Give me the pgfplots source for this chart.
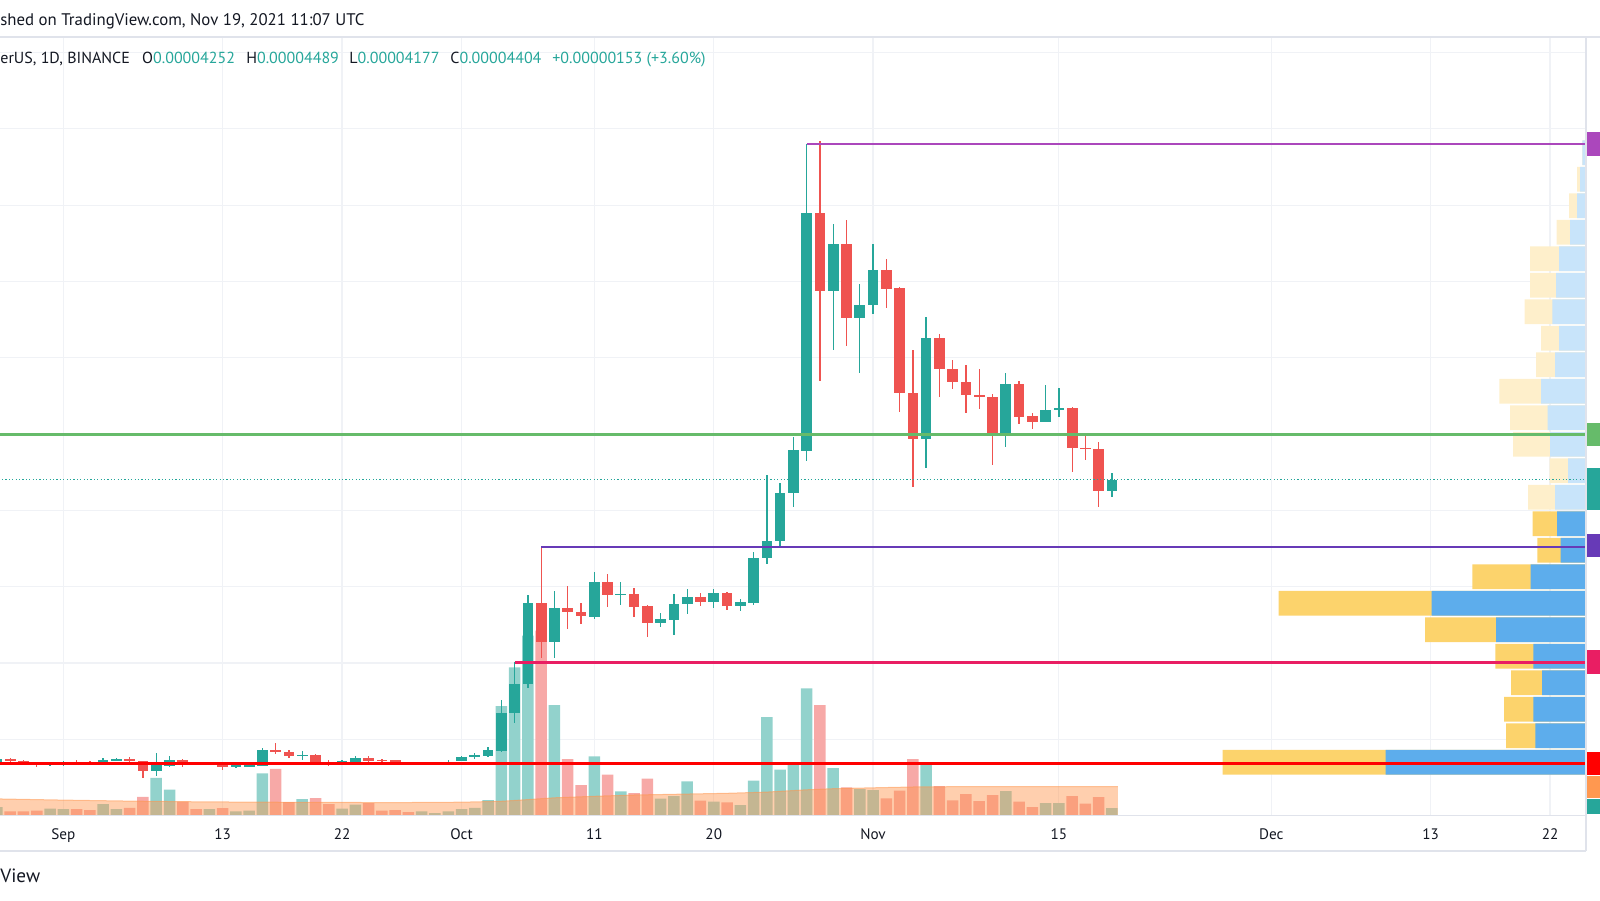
\documentclass[border=0pt]{standalone}
\usepackage{fontspec}
\setmainfont{PT Sans}
\usepackage{pgfplots}
\usepackage{pgfplotstable}
\pgfplotsset{compat=1.18}
\definecolor{upc}{HTML}{26A69A}
\definecolor{downc}{HTML}{EF5350}
\definecolor{volup}{HTML}{92D2CC}
\definecolor{voldown}{HTML}{F7A9A7}
\definecolor{maor}{HTML}{FF964E}
\definecolor{gridc}{HTML}{F0F2F6}
\definecolor{borderc}{HTML}{E0E3EB}
\definecolor{tvtext}{HTML}{131722}
\definecolor{pblue}{HTML}{5DADEC}
\definecolor{pyellow}{HTML}{FCD36C}
\definecolor{plblue}{HTML}{C8E4FA}
\definecolor{plyellow}{HTML}{FEEFCB}
\definecolor{hlpurple}{HTML}{AB47BC}
\definecolor{hlgreen}{HTML}{66BB6A}
\definecolor{hldeep}{HTML}{673AB7}
\definecolor{hlpink}{HTML}{E91E63}
\definecolor{hlred}{HTML}{FF0000}
\definecolor{lblorange}{HTML}{FF9850}

% day index: 0 = 1 Sep 2021
\pgfplotstableread{
d o h l c v
-5 6.894e-6 7.549e-6 6.763e-6 7.418e-6 8.6
-1 6.632e-6 6.959e-6 6.566e-6 6.894e-6 7.1
0 6.710e-6 7.156e-6 6.566e-6 7.064e-6 6.4
3 6.894e-6 7.601e-6 6.828e-6 7.339e-6 11.6
4 7.248e-6 7.484e-6 7.156e-6 7.418e-6 6.4
7 5.845e-6 8.152e-6 5.216e-6 6.632e-6 37.7
8 6.474e-6 7.785e-6 6.383e-6 7.287e-6 26.0
11 6.710e-6 6.959e-6 6.632e-6 6.828e-6 6.4
13 6.343e-6 6.697e-6 6.304e-6 6.658e-6 4.3
14 6.435e-6 6.828e-6 6.396e-6 6.763e-6 5.0
15 6.527e-6 8.820e-6 6.501e-6 8.558e-6 42.2
18 7.746e-6 8.414e-6 7.287e-6 8.008e-6 16.4
21 6.789e-6 7.339e-6 6.763e-6 7.195e-6 7.1
22 7.064e-6 7.785e-6 6.972e-6 7.549e-6 10.9
27 6.789e-6 7.064e-6 6.710e-6 7.025e-6 4.3
28 6.750e-6 7.064e-6 6.710e-6 7.025e-6 2.6
29 6.841e-6 7.339e-6 6.789e-6 7.064e-6 4.3
30 7.156e-6 7.746e-6 7.117e-6 7.654e-6 6.4
31 7.654e-6 8.191e-6 7.379e-6 7.942e-6 7.8
32 7.746e-6 9.004e-6 7.654e-6 8.558e-6 15.6
33 8.506e-6 1.5151e-5 8.296e-6 1.3486e-5 109.6
34 1.3407e-5 2.0170e-5 1.2175e-5 1.7287e-5 148.3
35 1.7247e-5 2.8872e-5 1.6684e-5 2.7824e-5 180
37 2.2791e-5 2.9475e-5 2.0616e-5 2.7169e-5 110.6
40 2.6029e-5 3.1966e-5 2.5766e-5 3.0576e-5 59.3
42 2.8951e-5 3.0655e-5 2.7601e-5 2.9082e-5 24.3
45 2.5242e-5 2.6592e-5 2.4679e-5 2.5727e-5 16.9
46 2.5675e-5 2.9043e-5 2.3709e-5 2.7772e-5 19.6
47 2.7732e-5 2.9659e-5 2.6382e-5 2.8610e-5 34.3
49 2.7994e-5 2.9659e-5 2.7169e-5 2.9174e-5 13.9
51 2.7431e-5 2.8427e-5 2.6854e-5 2.7955e-5 10.6
52 2.7903e-5 3.4587e-5 2.7601e-5 3.3800e-5 34.9
53 3.3761e-5 4.4639e-5 3.2935e-5 3.6028e-5 98.6
54 3.5989e-5 4.3630e-5 3.5032e-5 4.2319e-5 45.9
55 4.2241e-5 4.9659e-5 4.0484e-5 4.7916e-5 53.3
56 4.7824e-5 8.8020e-5 4.6513e-5 7.9016e-5 127.3
58 6.8793e-5 7.7535e-5 6.1022e-5 7.4914e-5 47.6
60 6.5255e-5 6.9632e-5 5.8047e-5 6.6919e-5 26.6
61 6.6919e-5 7.4914e-5 6.5740e-5 7.1467e-5 25.6
65 4.9318e-5 6.5386e-5 4.5517e-5 6.2555e-5 53.3
71 5.0104e-5 5.7968e-5 4.8348e-5 5.6526e-5 24.6
74 5.1585e-5 5.6395e-5 5.1520e-5 5.3158e-5 12.6
75 5.3158e-5 5.6081e-5 5.2280e-5 5.3420e-5 12.6
79 4.252e-5 4.489e-5 4.177e-5 4.404e-5 7.6
}\upcandles

\pgfplotstableread{
d o h l c v
-4 7.470e-6 7.549e-6 7.025e-6 7.117e-6 4.3
-3 7.195e-6 7.339e-6 6.828e-6 6.894e-6 4.3
-2 6.933e-6 7.025e-6 6.383e-6 6.658e-6 5.0
1 7.064e-6 7.248e-6 6.763e-6 6.789e-6 6.4
2 7.025e-6 7.156e-6 6.763e-6 6.841e-6 5.4
5 7.418e-6 7.654e-6 6.894e-6 7.117e-6 7.8
6 7.156e-6 7.221e-6 4.941e-6 5.845e-6 18.8
9 7.248e-6 7.418e-6 6.435e-6 6.710e-6 14.0
10 6.894e-6 6.959e-6 6.632e-6 6.710e-6 6.4
12 6.841e-6 6.894e-6 6.029e-6 6.435e-6 7.4
16 8.558e-6 9.463e-6 8.100e-6 8.283e-6 46.7
17 8.335e-6 8.650e-6 7.562e-6 7.746e-6 13.6
19 8.008e-6 8.100e-6 6.763e-6 6.841e-6 17.4
20 6.933e-6 7.287e-6 6.566e-6 6.763e-6 11.6
23 7.549e-6 7.837e-6 6.658e-6 7.195e-6 12.6
24 7.339e-6 7.470e-6 7.025e-6 7.156e-6 5.0
25 7.248e-6 7.287e-6 6.894e-6 6.933e-6 5.4
26 7.025e-6 7.064e-6 6.710e-6 6.789e-6 3.6
36 2.7824e-5 3.5334e-5 2.0616e-5 2.2791e-5 185
38 2.7169e-5 3.0131e-5 2.4416e-5 2.6644e-5 56.6
39 2.6644e-5 2.7824e-5 2.5111e-5 2.6120e-5 30.6
41 3.0576e-5 3.1625e-5 2.7378e-5 2.8951e-5 40.9
43 2.9082e-5 2.9790e-5 2.5989e-5 2.7339e-5 22.6
44 2.7431e-5 2.7601e-5 2.3368e-5 2.5281e-5 36.9
48 2.8610e-5 2.9135e-5 2.7510e-5 2.8034e-5 14.9
50 2.9174e-5 2.9344e-5 2.6946e-5 2.7470e-5 13.3
57 7.9016e-5 8.845e-5 5.6998e-5 6.8793e-5 110.6
59 7.4914e-5 7.8059e-5 6.1546e-5 6.5255e-5 28.3
62 7.1467e-5 7.2948e-5 6.6487e-5 6.9056e-5 17.3
63 6.9147e-5 6.9239e-5 5.2935e-5 5.5425e-5 24.9
64 5.5425e-5 6.1022e-5 4.3106e-5 4.9318e-5 56.6
66 6.2555e-5 6.3119e-5 5.4901e-5 5.8531e-5 29.6
67 5.8531e-5 5.9711e-5 5.5871e-5 5.6828e-5 15.3
68 5.6828e-5 5.9016e-5 5.2725e-5 5.5124e-5 21.6
69 5.5124e-5 5.8531e-5 5.3250e-5 5.4822e-5 14.6
70 5.4822e-5 5.5255e-5 4.5950e-5 5.0104e-5 20.6
72 5.6526e-5 5.6998e-5 5.1323e-5 5.2280e-5 13.9
73 5.2372e-5 5.2804e-5 5.0628e-5 5.1585e-5 8.6
76 5.3420e-5 5.3590e-5 4.5072e-5 4.8217e-5 19.6
77 4.8217e-5 4.9881e-5 4.6605e-5 4.8047e-5 11.9
78 4.8047e-5 4.9003e-5 4.0484e-5 4.252e-5 18.6
}\downcandles

\pgfplotstableread{
d h
-5 16.7
0 15.5
5 14.5
10 13.8
15 13.4
20 13.2
25 13.0
30 13.4
33 14.3
35 16.0
37 17.8
40 19.3
43 20.6
46 21.3
50 22.3
53 23.5
56 25.8
58 26.9
61 27.8
64 28.6
67 28.9
70 29.0
75 29.0
79.45 29.0
}\volma

\pgfplotstableread{
r b t
0.5 200.3 363.5
1.5 50.7 80.0
2.5 52.7 82.0
3.5 44.0 75.0
4.5 52.7 90.7
5.5 90.0 161.0
6.5 154.4 307.4
7.5 55.3 113.7
8.5 25.3 48.7
9.5 29.0 53.3
}\profsolid

\pgfplotstableread{
r b t
10.5 31.0 58.0
11.5 18.0 36.3
12.5 36.0 73.0
13.5 38.3 76.0
14.5 45.0 86.7
15.5 31.0 50.0
16.5 27.0 45.0
17.5 33.7 61.3
18.5 30.0 56.0
19.5 27.0 56.0
20.5 16.0 29.3
21.5 9.0 17.0
22.5 6.0 9.0
23.5 3.7 3.7
}\proflight

\pgfplotsset{
  tvbase/.style={at={(0pt,42.2pt)}, anchor=south west, scale only axis,
    width=793pt, height=389.3pt, xmin=-4.769, xmax=114.71},
  wick/.style={draw=none, mark=none, forget plot,
    error bars/.cd, y dir=both, y explicit, error mark=none,
    error bar style={draw=#1, line width=0.65pt}},
  body/.style={draw=none, mark=none, forget plot,
    error bars/.cd, y dir=both, y explicit, error mark=none,
    error bar style={draw=#1, line width=5.35pt}},
}

\begin{document}
\begin{tikzpicture}
% ---- grid and date axis
\begin{axis}[tvbase, ymin=0, ymax=1.02044e-4,
  axis line style={draw=none}, tick style={draw=none},
  xmajorgrids, ymajorgrids,
  major grid style={draw=gridc, line width=0.6pt},
  xtick={0,12,21,30,40,49,61,75,91,103,112},
  xticklabels={Sep,13,22,Oct,11,20,Nov,15,Dec,13,22},
  ytick={1e-5,2e-5,3e-5,4e-5,5e-5,6e-5,7e-5,8e-5,9e-5,1e-4},
  yticklabels={}, scaled y ticks=false, scaled x ticks=false,
  xticklabel style={font=\fontsize{7.6pt}{9pt}\selectfont, text=tvtext, anchor=base, yshift=-11.7pt},
]
\end{axis}
% ---- volume
\begin{axis}[tvbase, hide axis, ymin=0, ymax=778.6]
\addplot[ybar, bar width=5.75pt, bar shift=0pt, fill=volup, draw=none] table[x=d, y=v]{\upcandles};
\addplot[ybar, bar width=5.75pt, bar shift=0pt, fill=voldown, draw=none] table[x=d, y=v]{\downcandles};
\addplot[fill=maor, fill opacity=0.46, draw=none] table[x=d, y=h]{\volma} \closedcycle;
\addplot[draw=maor, draw opacity=0.55, line width=0.5pt] table[x=d, y=h]{\volma};
\end{axis}
% ---- visible range volume profile
\begin{axis}[at={(0pt,42.2pt)}, anchor=south west, scale only axis,
  width=793pt, height=389.3pt, hide axis, x dir=reverse,
  xmin=0, xmax=1586, ymin=-1.5132, ymax=27.868]
\addplot[xbar, bar width=0.93, bar shift=0pt, fill=plyellow, draw=none] table[x=t, y=r]{\proflight};
\addplot[xbar, bar width=0.93, bar shift=0pt, fill=plblue, draw=none] table[x=b, y=r]{\proflight};
\addplot[xbar, bar width=0.93, bar shift=0pt, fill=pyellow, draw=none] table[x=t, y=r]{\profsolid};
\addplot[xbar, bar width=0.93, bar shift=0pt, fill=pblue, draw=none] table[x=b, y=r]{\profsolid};
\end{axis}
% ---- candles and horizontal levels
\begin{axis}[tvbase, hide axis, ymin=0, ymax=1.02044e-4]
\addplot[wick=upc] table[x=d, y expr={0.5*(\thisrow{h}+\thisrow{l})}, y error expr={0.5*(\thisrow{h}-\thisrow{l})}]{\upcandles};
\addplot[wick=downc] table[x=d, y expr={0.5*(\thisrow{h}+\thisrow{l})}, y error expr={0.5*(\thisrow{h}-\thisrow{l})}]{\downcandles};
\addplot[body=upc] table[x=d, y expr={0.5*(\thisrow{o}+\thisrow{c})}, y error expr={max(0.5*abs(\thisrow{o}-\thisrow{c}),6.5e-8)}]{\upcandles};
\addplot[body=downc] table[x=d, y expr={0.5*(\thisrow{o}+\thisrow{c})}, y error expr={max(0.5*abs(\thisrow{o}-\thisrow{c}),6.5e-8)}]{\downcandles};
\addplot[draw=hlpurple, line width=1.35pt] coordinates {(56,8.802e-5) (120,8.802e-5)};
\addplot[draw=hlgreen, line width=1.35pt] coordinates {(-10,4.995e-5) (120,4.995e-5)};
\addplot[draw=upc, line width=0.6pt, dash pattern=on 0.6pt off 1.1pt] coordinates {(-10,4.404e-5) (120,4.404e-5)};
\addplot[draw=hldeep, line width=1.35pt] coordinates {(36,3.52e-5) (120,3.52e-5)};
\addplot[draw=hlpink, line width=1.35pt] coordinates {(34,2.009e-5) (120,2.009e-5)};
\addplot[draw=hlred, line width=1.5pt] coordinates {(-10,6.789e-6) (120,6.789e-6)};
\end{axis}
% ---- frame lines
\draw[borderc, line width=0.6pt] (0pt,431.5pt) -- (800pt,431.5pt);
\draw[borderc, line width=0.8pt] (0pt,42.2pt) -- (793pt,42.2pt);
\draw[borderc, line width=0.6pt] (0pt,24.5pt) -- (793pt,24.5pt);
\draw[borderc, line width=0.6pt] (793pt,24.5pt) -- (793pt,431.5pt);
% ---- price-scale labels (cut at the right edge)
\fill[hlpurple] (793.5pt,372.15pt) rectangle (800pt,383.75pt);
\fill[hlgreen] (793.5pt,227.05pt) rectangle (800pt,238.65pt);
\fill[upc] (793.5pt,195.15pt) rectangle (800pt,216pt);
\fill[hldeep] (793.5pt,171.25pt) rectangle (800pt,182.85pt);
\fill[hlpink] (793.5pt,113.2pt) rectangle (800pt,124.8pt);
\fill[hlred] (793.5pt,62.55pt) rectangle (800pt,74pt);
\fill[lblorange] (793.5pt,51.15pt) rectangle (800pt,62pt);
\fill[upc] (793.5pt,42.9pt) rectangle (800pt,50.7pt);
% ---- texts
\begin{scope}[every node/.style={inner sep=0pt, anchor=base west, text=tvtext, font=\fontsize{8pt}{9.6pt}\selectfont}]
\node[font=\fontsize{8.4pt}{10pt}\selectfont] at (0pt,437pt) {shed on TradingView.com, Nov 19, 2021 11:07 UTC};
\node at (0pt,418.25pt) {erUS, 1D, BINANCE};
\node at (70.9pt,418.25pt) {O\textcolor{upc}{0.00004252}};
\node at (122.95pt,418.25pt) {H\textcolor{upc}{0.00004489}};
\node at (174.5pt,418.25pt) {L\textcolor{upc}{0.00004177}};
\node at (225pt,418.25pt) {C\textcolor{upc}{0.00004404}};
\node[text=upc] at (276pt,418.25pt) {+0.00000153 (+3.60\%)};
\node[font=\fontsize{9.6pt}{11pt}\selectfont] at (0pt,9pt) {View};
\end{scope}
\pgfresetboundingbox
\useasboundingbox (0pt,0pt) rectangle (800pt,450pt);
\end{tikzpicture}
\end{document}
